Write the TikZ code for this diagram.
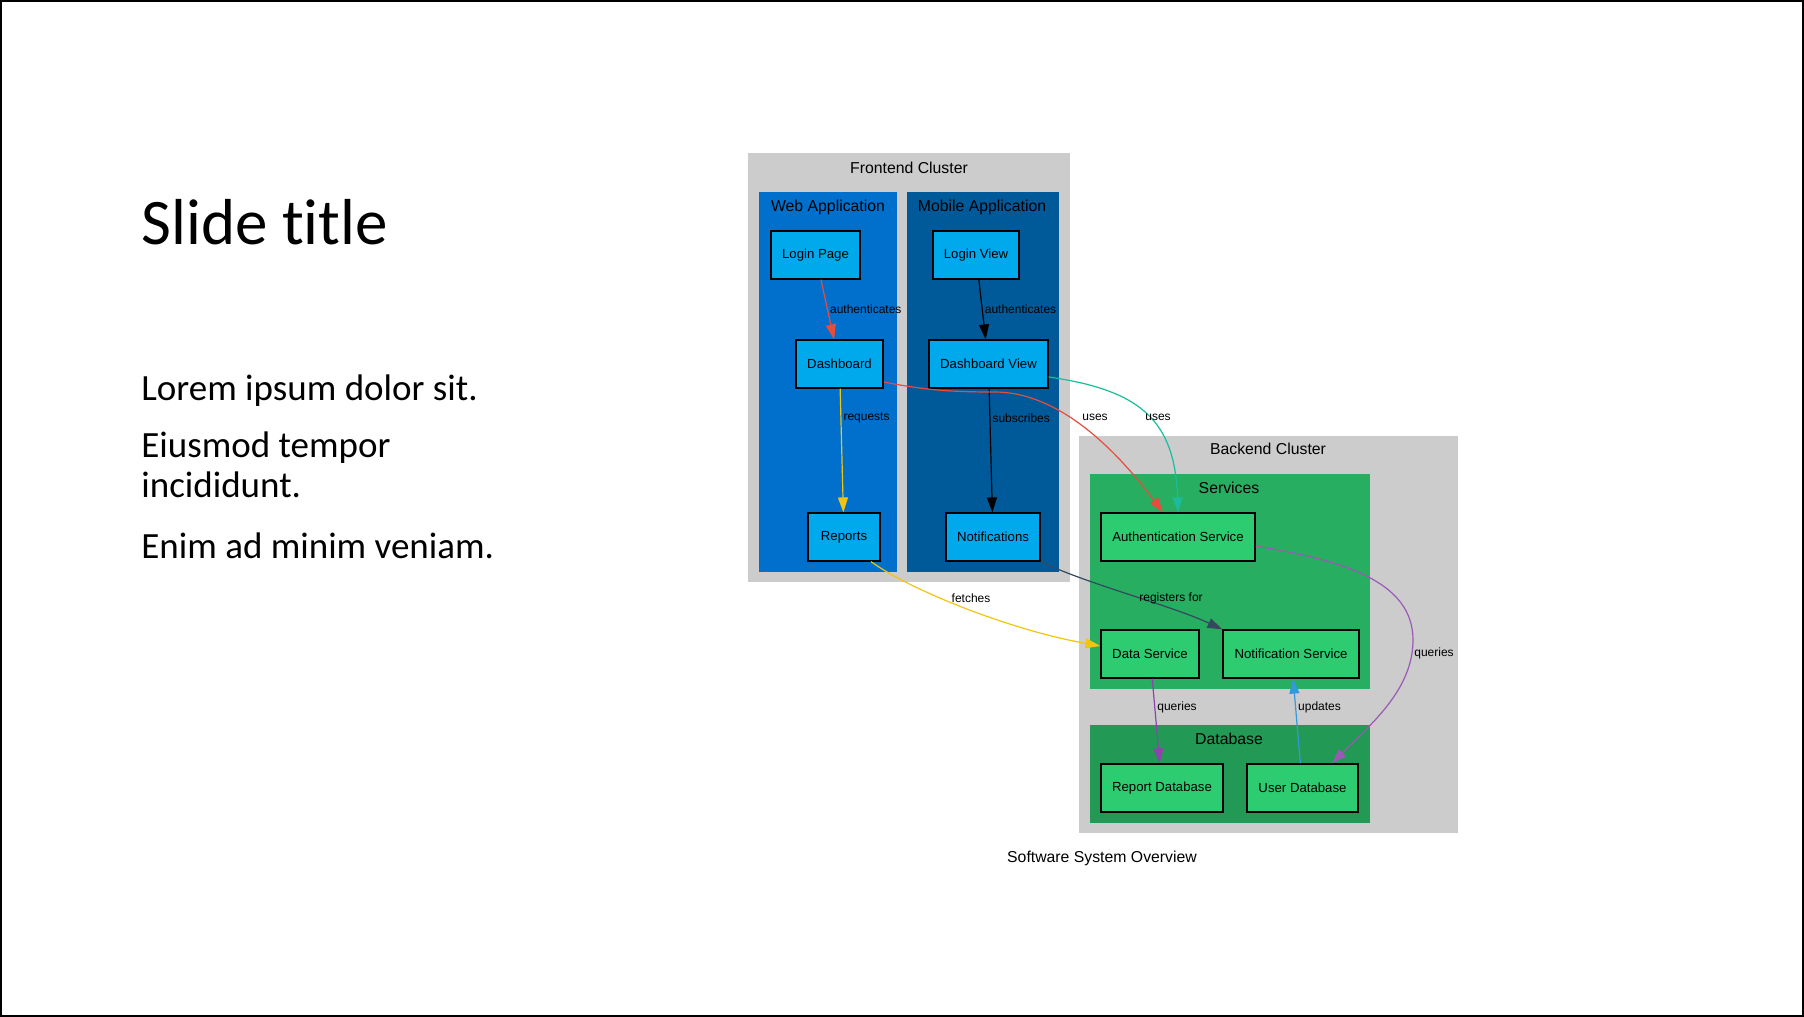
\documentclass[tikz,border=0pt]{standalone}
\usepackage{fontspec}
\setmainfont{Liberation Sans}
\newfontfamily\slidefont[Ligatures=NoCommon]{Carlito}
\usetikzlibrary{arrows.meta, positioning}

\definecolor{clgray}{HTML}{CCCCCC}
\definecolor{webblue}{HTML}{0070CC}
\definecolor{mobblue}{HTML}{005A9A}
\definecolor{nodeblue}{HTML}{00A8EC}
\definecolor{svgreen}{HTML}{27AE60}
\definecolor{dbgreen}{HTML}{229954}
\definecolor{nodegreen}{HTML}{2ECC71}
\definecolor{ered}{HTML}{E74C3C}
\definecolor{eyellow}{HTML}{F1C40F}
\definecolor{eteal}{HTML}{1ABC9C}
\definecolor{eslate}{HTML}{34495E}
\definecolor{epurple}{HTML}{8E44AD}
\definecolor{elilac}{HTML}{9B59B6}
\definecolor{eblue}{HTML}{3498DB}

\begin{document}
\begin{tikzpicture}[
            x=0.5pt, y=-0.5pt,
            box/.style={rectangle, draw, line width=0.6pt, fill=nodeblue, minimum height=24pt, inner sep=0pt, font=\fontsize{6.6}{8}\selectfont},
            gbox/.style={box, fill=nodegreen},
            lbl/.style={text=black, font=\fontsize{6}{7}\selectfont, inner sep=1pt},
            ctitle/.style={anchor=base, inner sep=0pt, font=\fontsize{7.9}{9}\selectfont},
            slide/.style={anchor=base west, inner sep=0pt, font=\slidefont\fontsize{18.5}{20}\selectfont},
            arrow/.style={->, >={Triangle[length=7.5pt, width=5pt]}, line width=0.6pt}
        ]
            \useasboundingbox (0,0) rectangle (1804,1017);
            \draw[line width=1pt] (1,1) rectangle (1803,1016);

            % slide text
            \node[slide, font=\slidefont\fontsize{32.5}{39}\selectfont] (title) at (141,244) {Slide title};
            \node[slide] (para1) at (141,400) {Lorem ipsum dolor sit.};
            \node[slide] (para2) at (141,457) {Eiusmod tempor};
            \node[slide] (para2b) at (141,497) {incididunt.};
            \node[slide] (para3) at (141,558) {Enim ad minim veniam.};

            % clusters
            \fill[clgray] (748,153) rectangle (1070,582);
            \fill[webblue] (759,192) rectangle (897,572);
            \fill[mobblue] (907,192) rectangle (1059,572);
            \fill[clgray] (1079,436) rectangle (1458,833);
            \fill[svgreen] (1090,474) rectangle (1370,689);
            \fill[dbgreen] (1090,725) rectangle (1370,823);

            \node[ctitle] (frontend) at (909,173) {Frontend Cluster};
            \node[ctitle] (webapp) at (828,211) {Web Application};
            \node[ctitle] (mobapp) at (982,211) {Mobile Application};
            \node[ctitle] (backend) at (1268,454) {Backend Cluster};
            \node[ctitle] (services) at (1229,493) {Services};
            \node[ctitle] (database) at (1229,744) {Database};
            \node[ctitle] (caption) at (1102,862) {Software System Overview};

            % nodes
            \node[box, minimum width=44.5pt] (login) at (815.5,255) {Login Page};
            \node[box, minimum width=43.5pt] (dash) at (839.5,364) {Dashboard};
            \node[box, minimum width=36pt] (reports) at (844,537) {Reports};
            \node[box, minimum width=43pt] (loginv) at (976,255) {Login View};
            \node[box, minimum width=59.5pt] (dashv) at (988.5,364) {Dashboard View};
            \node[box, minimum width=47pt] (notif) at (993,537) {Notifications};
            \node[gbox, minimum width=77pt] (auths) at (1178,537) {Authentication Service};
            \node[gbox, minimum width=49pt] (datas) at (1150,654) {Data Service};
            \node[gbox, minimum width=68pt] (notifs) at (1291,654) {Notification Service};
            \node[gbox, minimum width=61pt] (repdb) at (1162,788) {Report Database};
            \node[gbox, minimum width=55.5pt] (userdb) at (1302.5,788) {User Database};

            % edges
            \draw[arrow, ered] (login) -- node[lbl, anchor=west] {authenticates} (dash);
            \draw[arrow] (loginv) -- node[lbl, anchor=west] {authenticates} (dashv);
            \draw[arrow, eyellow] (dash) -- node[lbl, anchor=west, pos=0.24] {requests} (reports);
            \draw[arrow] (dashv) -- node[lbl, anchor=west, pos=0.24] {subscribes} (notif);
            \draw[arrow, ered] ([yshift=-9pt]dash.east) .. controls (925,390) and (950,392) .. (995,392)
                .. controls (1050,392) and (1105,435) .. ([xshift=-7.5pt]auths.north) node[lbl] at (1095,417) {uses};
            \draw[arrow, eteal] ([yshift=-6.5pt]dashv.east) .. controls (1140,390) and (1175,420) .. (auths.north)
                node[lbl] at (1158,417) {uses};
            \draw[arrow, eyellow] ([xshift=13.5pt]reports.south) .. controls (910,590) and (1010,630) .. ([yshift=4pt]datas.west)
                node[lbl] at (971,598) {fetches};
            \draw[arrow, eslate] (notif.south east) .. controls (1090,585) and (1170,605) .. (notifs.north west)
                node[lbl] at (1171,598) {registers for};
            \draw[arrow, elilac] ([yshift=-4.5pt]auths.east) .. controls (1340,560) and (1413,580) .. (1413,640)
                .. controls (1413,690) and (1370,725) .. ([xshift=14.75pt]userdb.north) node[lbl] at (1434,653) {queries};
            \draw[arrow, epurple] (datas) -- node[lbl, anchor=west, pos=0.34] {queries} (repdb);
            \draw[arrow, eblue] (userdb) -- node[lbl, anchor=west, pos=0.66] {updates} (notifs);
        \end{tikzpicture}
\end{document}
